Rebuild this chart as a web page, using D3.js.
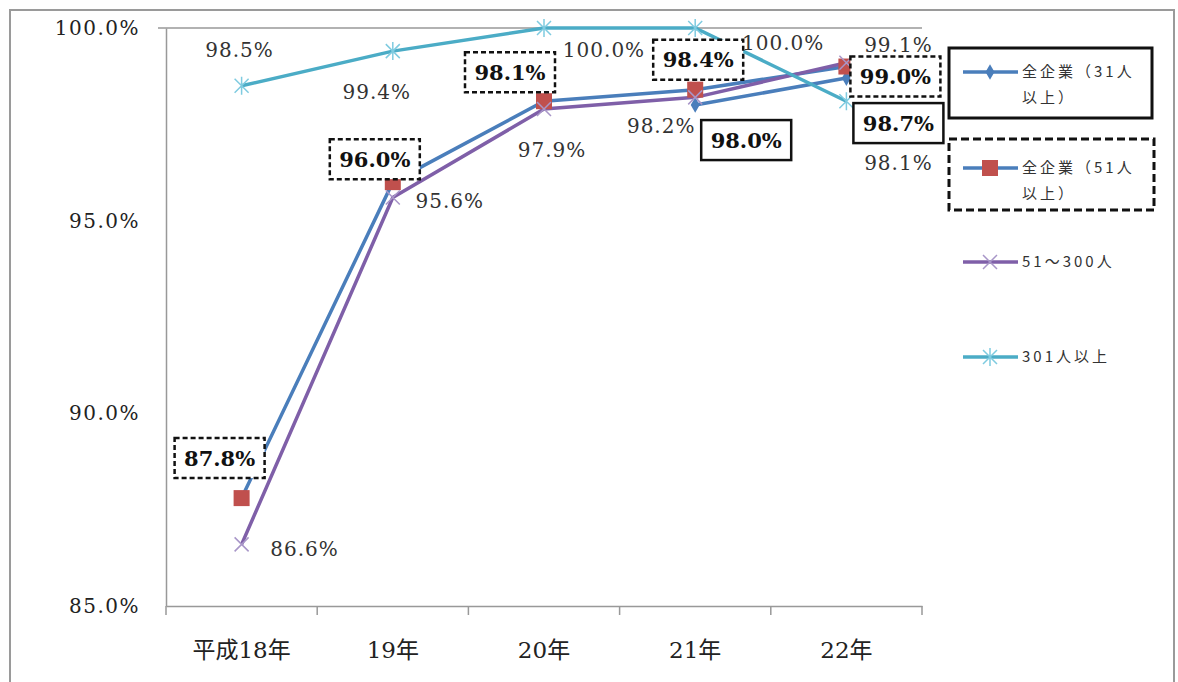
<!DOCTYPE html>
<html>
<head>
<meta charset="utf-8">
<script src="https://cdn.jsdelivr.net/npm/d3@7"></script>
<style>
  body { margin: 0; background: #fff; }
</style>
</head>
<body>
<svg id="chart" width="1178" height="682"></svg>
<script>
// categories and series
const categories = ['平成18年', '19年', '20年', '21年', '22年'];
const seriesNames = ['全企業（31人以上）', '全企業（51人以上）', '51～300人', '301人以上'];
const all31 = [null, null, null, 98.0, 98.7];
const all51 = [87.8, 96.0, 98.1, 98.4, 99.0];
const mid = [86.6, 95.6, 97.9, 98.2, 99.1];
const large = [98.5, 99.4, 100.0, 100.0, 98.1];
const yTicks = [85, 90, 95, 100];

// where each data label sits relative to its point
const labelOffsets = {
    all31: [null, null, null, [51, 35], [52, 45]],
    all51: [[-22, -40], [-18, -23], [-34, -29], [3, -30], [49, 10]],
    mid: [[63, 4], [57, 3], [8, 41], [-34, 28], [52, -18]],
    large: [[-2, -36], [-16, 41], [60, 22], [88, 15], [52, 62]]
};

const SERIF = '"DejaVu Serif", "Noto Sans CJK JP"';
const GOTHIC = '"Noto Sans CJK JP"';

const svg = d3.select('#chart');

// outer frame
svg.append('rect')
    .attr('x', 10).attr('y', 10)
    .attr('width', 1164).attr('height', 690)
    .attr('fill', 'none').attr('stroke', '#9a9a9a').attr('stroke-width', 2);

const xScale = d3.scaleBand().domain(categories).range([166, 922]);
const yScale = d3.scaleLinear().domain([85, 100]).range([606, 28]);
const xc = c => xScale(c) + xScale.bandwidth() / 2;

// top line at 100%
svg.append('line')
    .attr('x1', 158).attr('x2', 922)
    .attr('y1', yScale(100)).attr('y2', yScale(100))
    .attr('stroke', '#999').attr('stroke-width', 1.5);

// y axis
const yAxis = svg.append('g')
    .attr('transform', 'translate(166,0)')
    .call(d3.axisLeft(yScale).tickValues(yTicks).tickSize(0).tickPadding(26)
        .tickFormat(d => d.toFixed(1) + '%'));
yAxis.attr('font-family', SERIF).attr('font-size', 20);
yAxis.select('.domain').attr('stroke', '#999').attr('stroke-width', 1.5);
yAxis.selectAll('text').attr('fill', '#222').attr('letter-spacing', 1.5);

// x axis
const xAxis = svg.append('g')
    .attr('transform', 'translate(0,606)')
    .call(d3.axisBottom(xScale).tickSize(0).tickPadding(36));
xAxis.attr('font-family', SERIF).attr('font-size', 23);
xAxis.select('.domain').attr('stroke', '#999').attr('stroke-width', 1.5);
xAxis.selectAll('text').attr('fill', '#222');
// tick marks on the category boundaries
xAxis.selectAll('.bound')
    .data([...categories.map(c => xScale(c)), xScale.range()[1]])
    .join('line')
    .attr('x1', d => d).attr('x2', d => d)
    .attr('y1', 0).attr('y2', 9)
    .attr('stroke', '#999').attr('stroke-width', 1.5);

const series = [
    { key: 'all31', values: all31, color: '#4a7ebb', marker: 'diamond' },
    { key: 'all51', values: all51, color: '#4a7ebb', marker: 'square' },
    { key: 'mid', values: mid, color: '#7f5fa8', marker: 'x' },
    { key: 'large', values: large, color: '#4bacc6', marker: 'star' }
];

const line = d3.line()
    .defined(d => d.v != null)
    .x(d => xc(d.c))
    .y(d => yScale(d.v));

// draw a marker at (x, y)
function drawMarker(g, type, x, y) {
    if (type === 'diamond') {
        g.append('path')
            .attr('d', d3.symbol(d3.symbolDiamond, 70)())
            .attr('transform', `translate(${x},${y})`)
            .attr('fill', '#4a7ebb');
    } else if (type === 'square') {
        g.append('rect')
            .attr('x', x - 8).attr('y', y - 8)
            .attr('width', 16).attr('height', 16)
            .attr('fill', '#c0504d');
    } else if (type === 'x') {
        g.append('path')
            .attr('d', `M${x - 7},${y - 7}L${x + 7},${y + 7}M${x - 7},${y + 7}L${x + 7},${y - 7}`)
            .attr('stroke', '#a896c8').attr('stroke-width', 1.5);
    } else {
        g.append('path')
            .attr('d', `M${x - 7},${y - 7}L${x + 7},${y + 7}M${x - 7},${y + 7}L${x + 7},${y - 7}M${x},${y - 9}L${x},${y + 9}`)
            .attr('stroke', '#7fcbe0').attr('stroke-width', 1.5);
    }
}

const plot = svg.append('g');
series.forEach(s => {
    const pts = categories.map((c, i) => ({ c: c, v: s.values[i] }));
    plot.append('path')
        .datum(pts)
        .attr('d', line)
        .attr('fill', 'none')
        .attr('stroke', s.color)
        .attr('stroke-width', 3.5);
});
// markers on top of all lines
series.forEach(s => {
    categories.forEach((c, i) => {
        if (s.values[i] == null) return;
        drawMarker(plot, s.marker, xc(c), yScale(s.values[i]));
    });
});

// data labels
const labels = svg.append('g').attr('font-family', SERIF);
series.forEach(s => {
    categories.forEach((c, i) => {
        const v = s.values[i];
        if (v == null) return;
        const off = labelOffsets[s.key][i];
        const x = xc(c) + off[0];
        const y = yScale(v) + off[1];
        const boxed = s.key === 'all31' || s.key === 'all51';
        if (boxed) {
            labels.append('rect')
                .attr('x', x - 45).attr('y', y - 20)
                .attr('width', 90).attr('height', 40)
                .attr('fill', '#fff')
                .attr('stroke', '#111')
                .attr('stroke-width', 2.5)
                .attr('stroke-dasharray', s.key === 'all51' ? '5,3' : null);
        }
        labels.append('text')
            .attr('x', x).attr('y', y)
            .attr('dy', '0.36em')
            .attr('text-anchor', 'middle')
            .attr('font-size', boxed ? 21 : 20)
            .attr('font-weight', boxed ? 'bold' : 'normal')
            .attr('letter-spacing', boxed ? 0 : 1)
            .attr('fill', boxed ? '#111' : '#333')
            .text(v.toFixed(1) + '%');
    });
});

// legend
const legend = svg.append('g');
legend.append('rect')
    .attr('x', 949).attr('y', 48).attr('width', 203).attr('height', 70)
    .attr('fill', '#fff').attr('stroke', '#111').attr('stroke-width', 3);
legend.append('rect')
    .attr('x', 949).attr('y', 139).attr('width', 205).attr('height', 71)
    .attr('fill', '#fff').attr('stroke', '#111').attr('stroke-width', 3)
    .attr('stroke-dasharray', '8,4');

const legendRows = [72, 168, 262, 357];
series.forEach((s, i) => {
    const ly = legendRows[i];
    legend.append('line')
        .attr('x1', 963).attr('x2', 1018)
        .attr('y1', ly).attr('y2', ly)
        .attr('stroke', s.color).attr('stroke-width', 3.5);
    drawMarker(legend, s.marker, 990, ly);
    const name = seriesNames[i];
    const t = legend.append('text')
        .attr('x', 1022).attr('y', ly + 5)
        .attr('font-family', GOTHIC).attr('font-size', 15)
        .attr('letter-spacing', 3)
        .attr('fill', '#333');
    if (name.indexOf('以上）') > 0) {
        t.append('tspan').text(name.replace('以上）', ''));
        t.append('tspan').attr('x', 1022).attr('dy', 26).text('以上）');
    } else {
        t.text(name);
    }
});
</script>
</body>
</html>
